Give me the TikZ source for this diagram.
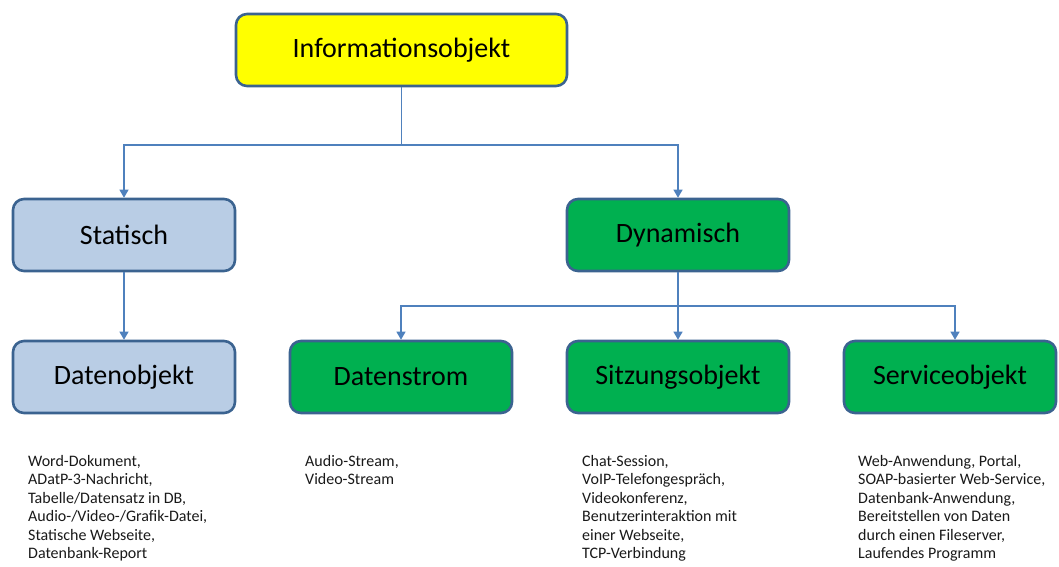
\documentclass[tikz,border=0pt]{standalone}
\usepackage{fontspec}
\setmainfont{Carlito}
\usetikzlibrary{arrows.meta}
\definecolor{boxedge}{HTML}{3B6390}
\definecolor{linkblue}{HTML}{4F81BD}
\definecolor{topfill}{HTML}{FFFF00}
\definecolor{staticfill}{HTML}{B9CDE5}
\definecolor{dynfill}{HTML}{00B050}
\tikzset{
  box/.style={draw=boxedge, line width=2.6pt, rounded corners=11pt,
    minimum width=222pt, minimum height=72pt, inner sep=0pt,
    font=\fontsize{28}{30}\selectfont},
  link/.style={draw=linkblue, line width=1.2pt,
    -{Triangle[length=8pt,width=9pt]}},
  plain/.style={draw=linkblue, line width=1.2pt},
  examples/.style={anchor=north west, align=left, inner sep=0pt,
    font=\fontsize{16}{18.5}\selectfont, text=black!90}
}
\begin{document}
\begin{tikzpicture}[x=1pt,y=-1pt]
\useasboundingbox (0,0) rectangle (1059,566);
% boxes
\node[box, fill=topfill, minimum width=331pt] (info) at (401.5,50) {Informationsobjekt};
\node[box, fill=staticfill] (stat) at (124,235) {Statisch};
\node[box, fill=dynfill] (dyn) at (678,235) {Dynamisch};
\node[box, fill=staticfill] (daten) at (124,377) {Datenobjekt};
\node[box, fill=dynfill] (strom) at (401,377) {Datenstrom};
\node[box, fill=dynfill] (sitz) at (678,377) {Sitzungsobjekt};
\node[box, fill=dynfill, minimum width=212pt] (serv) at (950,377) {Serviceobjekt};
% branch points
\coordinate (j1) at (401.5,145);
\coordinate (j2) at (678,306);
% connectors
\draw[plain] (info.south) -- (j1);
\draw[link] (j1) -| (stat.north);
\draw[link] (j1) -| (dyn.north);
\draw[link] (stat.south) -- (daten.north);
\draw[plain] (dyn.south) -- (j2);
\draw[link] (j2) -| (strom.north);
\draw[link] (j2) -- (sitz.north);
\draw[link] (j2) -| ([xshift=5pt]serv.north);
% examples
\node[examples] (ex1) at (28,455) {Word-Dokument,\\ADatP-3-Nachricht,\\Tabelle/Datensatz in DB,\\Audio-/Video-/Grafik-Datei,\\Statische Webseite,\\Datenbank-Report};
\node[examples] (ex2) at (305,455) {Audio-Stream,\\Video-Stream};
\node[examples] (ex3) at (582,455) {Chat-Session,\\VoIP-Telefongespräch,\\Videokonferenz,\\Benutzerinteraktion mit\\einer Webseite,\\TCP-Verbindung};
\node[examples] (ex4) at (858,455) {Web-Anwendung, Portal,\\SOAP-basierter Web-Service,\\Datenbank-Anwendung,\\Bereitstellen von Daten\\durch einen Fileserver,\\Laufendes Programm};
\end{tikzpicture}
\end{document}
